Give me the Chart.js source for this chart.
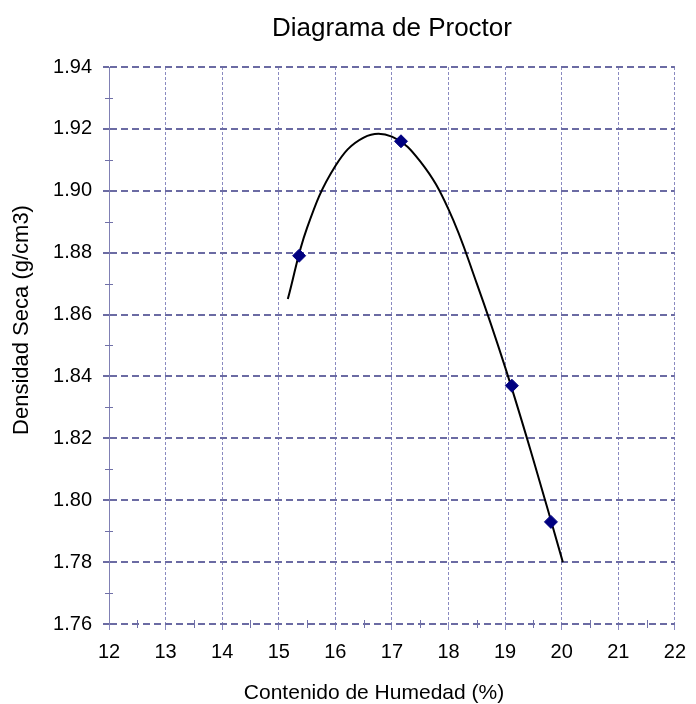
<!DOCTYPE html>
<html>
<head>
<meta charset="utf-8">
<script src="https://cdn.jsdelivr.net/npm/chart.js@4"></script>
<style>
  html, body { margin: 0; padding: 0; background: #fff; }
  #wrap { width: 696px; height: 704px; }
</style>
</head>
<body>
<div id="wrap"><canvas id="proctor" width="696" height="704"></canvas></div>
<script>
// ======= Data =======
const moisture = [15.36, 17.16, 19.12, 19.81];        // Contenido de Humedad (%)
const density  = [1.879, 1.916, 1.837, 1.793];        // Densidad Seca (g/cm3)

// trend curve
const curveX = [15.16, 15.5, 16.0, 16.5, 17.0, 17.5, 18.0, 18.5, 19.0, 19.5, 20.02];
const curveY = [1.865, 1.888, 1.908, 1.9172, 1.9175, 1.9095, 1.894, 1.870, 1.843, 1.813, 1.780];

const xTicks = [12, 13, 14, 15, 16, 17, 18, 19, 20, 21, 22];
const yTicks = [1.76, 1.78, 1.80, 1.82, 1.84, 1.86, 1.88, 1.90, 1.92, 1.94];

const titleText = 'Diagrama de Proctor';
const xTitle = 'Contenido de Humedad (%)';
const yTitle = 'Densidad Seca (g/cm3)';

const FONT = '"Liberation Sans", Arial, sans-serif';
const GRID_H = '#6b6ba3';
const GRID_V = '#8a8ac0';

// ======= Titles + minor ticks drawn on top =======
const decorations = {
    id: 'decorations',
    afterDraw(chart) {
        const ctx = chart.ctx;
        const xs = chart.scales.x, ys = chart.scales.y;
        const area = chart.chartArea;
        ctx.save();

        // minor ticks crossing the axes
        ctx.strokeStyle = '#7070a8';
        ctx.lineWidth = 1;
        ctx.beginPath();
        for (let v = xs.min + 0.5; v < xs.max; v += 1) {
            const px = Math.round(xs.getPixelForValue(v)) + 0.5;
            ctx.moveTo(px, area.bottom - 4);
            ctx.lineTo(px, area.bottom + 4);
        }
        for (let v = ys.min + 0.01; v < ys.max; v += 0.02) {
            const py = Math.round(ys.getPixelForValue(v)) + 0.5;
            ctx.moveTo(area.left - 4, py);
            ctx.lineTo(area.left + 4, py);
        }
        ctx.stroke();

        // chart title
        ctx.fillStyle = '#000';
        ctx.textAlign = 'center';
        ctx.textBaseline = 'alphabetic';
        ctx.font = '26px ' + FONT;
        ctx.fillText(titleText, 392, 36);

        // x axis title
        ctx.font = '21px ' + FONT;
        ctx.fillText(xTitle, 374, 699);

        // y axis title (rotated)
        ctx.font = '22px ' + FONT;
        ctx.translate(28, 320);
        ctx.rotate(-Math.PI / 2);
        ctx.fillText(yTitle, 0, 0);
        ctx.restore();
    }
};

new Chart(document.getElementById('proctor'), {
    type: 'scatter',
    data: {
        datasets: [
            {
                label: 'Puntos',
                data: moisture.map((x, i) => ({ x: x, y: density[i] })),
                pointStyle: 'rectRot',
                pointRadius: 6.5,
                pointBackgroundColor: '#000080',
                pointBorderColor: '#000080',
                showLine: false,
                order: 0
            },
            {
                label: 'Curva',
                data: curveX.map((x, i) => ({ x: x, y: curveY[i] })),
                showLine: true,
                borderColor: '#000',
                borderWidth: 2,
                pointRadius: 0,
                tension: 0.4,
                order: 1
            }
        ]
    },
    options: {
        responsive: false,
        animation: false,
        layout: { padding: { left: 0, right: 16, top: 67, bottom: 0 } },
        plugins: {
            legend: { display: false },
            tooltip: { enabled: false }
        },
        scales: {
            x: {
                type: 'linear',
                min: 12, max: 22,
                afterBuildTicks: s => { s.ticks = xTicks.map(v => ({ value: v })); },
                afterFit: s => { s.height = 80; },
                ticks: {
                    font: { family: FONT, size: 20 },
                    color: '#000',
                    padding: 10,
                    maxRotation: 0
                },
                grid: {
                    color: GRID_V,
                    lineWidth: 1,
                    tickLength: 6,
                    tickColor: GRID_V
                },
                border: { display: false, dash: [3, 2] }
            },
            y: {
                type: 'linear',
                min: 1.76, max: 1.94,
                afterBuildTicks: s => { s.ticks = yTicks.map(v => ({ value: v })); },
                afterFit: s => { s.width = 109; },
                ticks: {
                    font: { family: FONT, size: 20 },
                    color: '#000',
                    padding: 11,
                    callback: v => v.toFixed(2)
                },
                grid: {
                    color: GRID_H,
                    lineWidth: 2,
                    tickLength: 6,
                    tickColor: GRID_H,
                    tickWidth: 2,
                    tickBorderDash: []
                },
                border: { display: true, color: '#8080b4', width: 1, dash: [7, 4] }
            }
        }
    },
    plugins: [decorations]
});
</script>
</body>
</html>
